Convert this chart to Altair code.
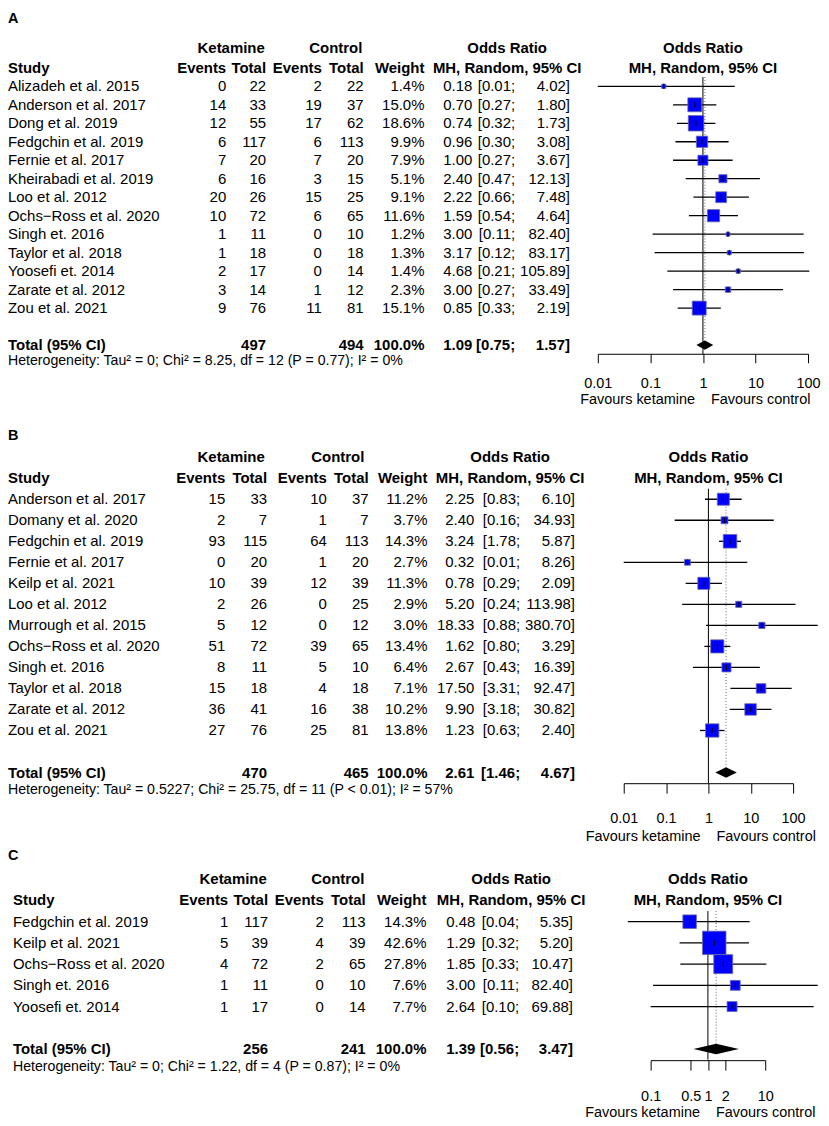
import altair as alt
import pandas as pd

FONT = "Liberation Sans"

# ---------------- Panel A data ----------------
a_study = ["Alizadeh et al. 2015", "Anderson et al. 2017", "Dong et al. 2019", "Fedgchin et al. 2019",
           "Fernie et al. 2017", "Kheirabadi et al. 2019", "Loo et al. 2012", "Ochs\u2212Ross et al. 2020",
           "Singh et. 2016", "Taylor et al. 2018", "Yoosefi et. 2014", "Zarate et al. 2012", "Zou et al. 2021"]
a_ev_k = [0, 14, 12, 6, 7, 6, 20, 10, 1, 1, 2, 3, 9]
a_n_k = [22, 33, 55, 117, 20, 16, 26, 72, 11, 18, 17, 14, 76]
a_ev_c = [2, 19, 17, 6, 7, 3, 15, 6, 0, 0, 0, 1, 11]
a_n_c = [22, 37, 62, 113, 20, 15, 25, 65, 10, 18, 14, 12, 81]
a_w = [1.4, 15.0, 18.6, 9.9, 7.9, 5.1, 9.1, 11.6, 1.2, 1.3, 1.4, 2.3, 15.1]
a_or = [0.18, 0.70, 0.74, 0.96, 1.00, 2.40, 2.22, 1.59, 3.00, 3.17, 4.68, 3.00, 0.85]
a_lo = [0.01, 0.27, 0.32, 0.30, 0.27, 0.47, 0.66, 0.54, 0.11, 0.12, 0.21, 0.27, 0.33]
a_hi = [4.02, 1.80, 1.73, 3.08, 3.67, 12.13, 7.48, 4.64, 82.40, 83.17, 105.89, 33.49, 2.19]
a_tot = [497, 494, 1.09, 0.75, 1.57]
a_het = "Heterogeneity: Tau\u00b2 = 0; Chi\u00b2 = 8.25, df = 12 (P = 0.77); I\u00b2 = 0%"

# ---------------- Panel B data ----------------
b_study = ["Anderson et al. 2017", "Domany et al. 2020", "Fedgchin et al. 2019", "Fernie et al. 2017",
           "Keilp et al. 2021", "Loo et al. 2012", "Murrough et al. 2015", "Ochs\u2212Ross et al. 2020",
           "Singh et. 2016", "Taylor et al. 2018", "Zarate et al. 2012", "Zou et al. 2021"]
b_ev_k = [15, 2, 93, 0, 10, 2, 5, 51, 8, 15, 36, 27]
b_n_k = [33, 7, 115, 20, 39, 26, 12, 72, 11, 18, 41, 76]
b_ev_c = [10, 1, 64, 1, 12, 0, 0, 39, 5, 4, 16, 25]
b_n_c = [37, 7, 113, 20, 39, 25, 12, 65, 10, 18, 38, 81]
b_w = [11.2, 3.7, 14.3, 2.7, 11.3, 2.9, 3.0, 13.4, 6.4, 7.1, 10.2, 13.8]
b_or = [2.25, 2.40, 3.24, 0.32, 0.78, 5.20, 18.33, 1.62, 2.67, 17.50, 9.90, 1.23]
b_lo = [0.83, 0.16, 1.78, 0.01, 0.29, 0.24, 0.88, 0.80, 0.43, 3.31, 3.18, 0.63]
b_hi = [6.10, 34.93, 5.87, 8.26, 2.09, 113.98, 380.70, 3.29, 16.39, 92.47, 30.82, 2.40]
b_tot = [470, 465, 2.61, 1.46, 4.67]
b_het = "Heterogeneity: Tau\u00b2 = 0.5227; Chi\u00b2 = 25.75, df = 11 (P < 0.01); I\u00b2 = 57%"

# ---------------- Panel C data ----------------
c_study = ["Fedgchin et al. 2019", "Keilp et al. 2021", "Ochs\u2212Ross et al. 2020", "Singh et. 2016",
           "Yoosefi et. 2014"]
c_ev_k = [1, 5, 4, 1, 1]
c_n_k = [117, 39, 72, 11, 17]
c_ev_c = [2, 4, 2, 0, 0]
c_n_c = [113, 39, 65, 10, 14]
c_w = [14.3, 42.6, 27.8, 7.6, 7.7]
c_or = [0.48, 1.29, 1.85, 3.00, 2.64]
c_lo = [0.04, 0.32, 0.33, 0.11, 0.10]
c_hi = [5.35, 5.20, 10.47, 82.40, 69.88]
c_tot = [256, 241, 1.39, 0.56, 3.47]
c_het = "Heterogeneity: Tau\u00b2 = 0; Chi\u00b2 = 1.22, df = 4 (P = 0.87); I\u00b2 = 0%"

# ---------------- text labels ----------------
hdr_top = ["Ketamine", "Control", "Odds Ratio"]
hdr_sub = ["Study", "Events", "Total", "Events", "Total", "Weight", "MH, Random, 95% CI"]
forest_hdr = ["Odds Ratio", "MH, Random, 95% CI"]
favours = ["Favours ketamine", "Favours control"]
total_label = "Total (95% CI)"
null_value = [1.0]

A_ticks = [0.01, 0.1, 1, 10, 100]
B_ticks = [0.01, 0.1, 1, 10, 100]
C_ticks = [0.1, 0.5, 1, 2, 10]

W = 813
SPACING = 60
FS = 15

# layout (pixel positions inside each panel)
LA = dict(label="A", h=343, y0=56.0, dy=18.55, xr=[592, 803], ticks=A_ticks, tsize=9, lpad=14,
          sq=13.0, lab_row=-3.019, lab_base="top", hrow=-1.05, sx=0, fav=2.97,
          cols=[219, 259, 315, 357, 418, 466, 509, 564], ket=224, ctl=329, orc=501)
LB = dict(label="B", h=371, y0=64.9, dy=21.1, xr=[618, 788], ticks=B_ticks, tsize=10, lpad=18,
          sq=17.5, lab_row=-2.0, lab_base="middle", hrow=-1.0, sx=0, fav=3.05,
          cols=[218, 260, 320, 362, 421, 468, 514, 569], ket=224, ctl=331, orc=504)
LC = dict(label="C", h=218, y0=57.7, dy=21.3, xr=[645, 760], ticks=C_ticks, tsize=10, lpad=19,
          sq=6.0, lab_row=-2.08, lab_base="middle", hrow=-1.0, sx=5, fav=3.03,
          cols=[221, 261, 317, 359, 420, 469, 513, 567], ket=226, ctl=331, orc=505)


def panel(study, ev_k, n_k, ev_c, n_c, w, est, lo, hi, tot, het, L):
    n = len(study)
    trow = n + 2
    df = pd.DataFrame({
        "row": list(range(1, n + 1)) + [trow],
        "kind": ["study"] * n + ["total"],
        "study": study + [total_label],
        "ev_k": [str(v) for v in ev_k] + [""],
        "n_k": [str(v) for v in n_k] + [str(tot[0])],
        "ev_c": [str(v) for v in ev_c] + [""],
        "n_c": [str(v) for v in n_c] + [str(tot[1])],
        "wt": [f"{v:.1f}%" for v in w] + ["100.0%"],
        "est_s": [f"{v:.2f}" for v in est] + [f"{tot[2]:.2f}"],
        "lo_s": [f"[{v:.2f};" for v in lo] + [f"[{tot[3]:.2f};"],
        "hi_s": [f"{v:.2f}]" for v in hi] + [f"{tot[4]:.2f}]"],
        "est": est + [tot[2]],
        "lo": lo + [tot[3]],
        "hi": hi + [tot[4]],
        "w": w + [100.0],
    })
    ysc = alt.Scale(domain=[0, trow], range=[L["y0"], L["y0"] + L["dy"] * trow], zero=False, nice=False)
    xsc = alt.Scale(type="log", domain=[L["ticks"][0], L["ticks"][-1]], range=L["xr"], nice=False)
    ax = alt.Axis(values=L["ticks"], format="~g", title=None, grid=False, domainColor="black",
                  tickColor="black", labelColor="black", labelFont=FONT, labelFontSize=14.5,
                  tickSize=L["tsize"], labelPadding=L["lpad"], domainWidth=1, tickWidth=1,
                  labelFlush=False, labelOverlap=False)

    def Y(f):
        return alt.Y(f, type="quantitative", scale=ysc, axis=None)

    def X(f):
        return alt.X(f, type="quantitative", scale=xsc, axis=ax)

    layers = []
    cols = L["cols"]
    fields = [("study", L["sx"], "left"), ("ev_k", cols[0], "right"), ("n_k", cols[1], "right"),
              ("ev_c", cols[2], "right"), ("n_c", cols[3], "right"), ("wt", cols[4], "right"),
              ("est_s", cols[5], "right"), ("lo_s", cols[6], "right"), ("hi_s", cols[7], "right")]
    for kind, bold in (("study", False), ("total", True)):
        for f, x, al in fields:
            layers.append(
                alt.Chart(df).transform_filter(alt.datum.kind == kind)
                .mark_text(align=al, baseline="middle", font=FONT, fontSize=FS,
                           fontWeight="bold" if bold else "normal", color="black")
                .encode(x=alt.value(x), y=Y("row"), text=alt.Text(f, type="nominal"))
            )

    def lab(text, row, x, align, bold=True, size=FS, baseline="middle"):
        d = pd.DataFrame({"row": [row], "t": [text]})
        return (alt.Chart(d).mark_text(align=align, baseline=baseline, font=FONT, fontSize=size,
                                       fontWeight="bold" if bold else "normal", color="black")
                .encode(x=alt.value(x), y=Y("row"), text="t:N"))

    hr = L["hrow"]
    layers += [
        lab(L["label"], L["lab_row"], 0, "left", size=14.5, baseline=L["lab_base"]),
        lab(hdr_top[0], hr, L["ket"], "center"),
        lab(hdr_top[1], hr, L["ctl"], "center"),
        lab(hdr_top[2], hr, L["orc"], "center"),
        lab(hdr_sub[0], 0, L["sx"], "left"),
        lab(hdr_sub[1], 0, cols[0], "right"),
        lab(hdr_sub[2], 0, cols[1], "right"),
        lab(hdr_sub[3], 0, cols[2], "right"),
        lab(hdr_sub[4], 0, cols[3], "right"),
        lab(hdr_sub[5], 0, cols[4], "right"),
        lab(hdr_sub[6], 0, L["orc"], "center"),
        lab(het, trow + 0.84, L["sx"], "left", bold=False, size=14.2),
    ]

    sdf = df[df.kind == "study"]
    # reference lines
    nl = pd.DataFrame({"x": null_value, "y1": [0.5], "y2": [trow + 0.5]})
    pl = pd.DataFrame({"x": [tot[2]], "y1": [0.5], "y2": [trow - 0.25]})
    layers.append(alt.Chart(pl).mark_rule(color="#666666", strokeWidth=1, strokeDash=[1, 2])
                  .encode(x=X("x"), y=Y("y1"), y2="y2"))
    layers.append(alt.Chart(nl).mark_rule(color="black", strokeWidth=1)
                  .encode(x=X("x"), y=Y("y1"), y2="y2"))
    # CI lines
    layers.append(alt.Chart(sdf).mark_rule(color="black", strokeWidth=1.3)
                  .encode(x=X("lo"), x2="hi", y=Y("row")))
    # squares
    layers.append(alt.Chart(sdf).mark_square(filled=True, fill="#0000ff", stroke="#6a6aa8",
                                             strokeWidth=0.8, opacity=1)
                  .encode(x=X("est"), y=Y("row"),
                          size=alt.Size("w:Q", scale=alt.Scale(domain=[0, 100], range=[0, L["sq"] * 100]),
                                        legend=None)))
    # estimate ticks
    layers.append(alt.Chart(sdf).mark_point(shape="M0,-1L0,1", size=30, filled=False, color="black",
                                            strokeWidth=1, opacity=1)
                  .encode(x=X("est"), y=Y("row")))
    # diamond
    dd = pd.DataFrame({"x": [tot[3], tot[2], tot[4]],
                       "y1": [trow, trow - 0.25, trow], "y2": [trow, trow + 0.25, trow]})
    layers.append(alt.Chart(dd).mark_area(color="black", orient="vertical", opacity=1)
                  .encode(x=X("x"), y=Y("y1"), y2="y2"))
    # forest header
    fh = pd.DataFrame({"x": null_value * 2, "row": [hr, 0], "t": forest_hdr})
    layers.append(alt.Chart(fh).mark_text(align="center", baseline="middle", font=FONT, fontSize=FS,
                                          fontWeight="bold", color="black")
                  .encode(x=X("x"), y=Y("row"), text="t:N"))
    # favours
    fv = pd.DataFrame({"x": null_value, "row": [trow + L["fav"]], "l": [favours[0]], "r": [favours[1]]})
    layers.append(alt.Chart(fv).mark_text(align="right", baseline="middle", font=FONT, fontSize=14.5,
                                          color="black", dx=-8)
                  .encode(x=X("x"), y=Y("row"), text="l:N"))
    layers.append(alt.Chart(fv).mark_text(align="left", baseline="middle", font=FONT, fontSize=14.5,
                                          color="black", dx=8)
                  .encode(x=X("x"), y=Y("row"), text="r:N"))

    return alt.layer(*layers).properties(width=W, height=L["h"])


pA = panel(a_study, a_ev_k, a_n_k, a_ev_c, a_n_c, a_w, a_or, a_lo, a_hi, a_tot, a_het, LA)
pB = panel(b_study, b_ev_k, b_n_k, b_ev_c, b_n_c, b_w, b_or, b_lo, b_hi, b_tot, b_het, LB)
pC = panel(c_study, c_ev_k, c_n_k, c_ev_c, c_n_c, c_w, c_or, c_lo, c_hi, c_tot, c_het, LC)

chart = (alt.vconcat(pA, pB, pC, spacing=SPACING, bounds="flush", padding=0)
         .configure(font=FONT, background="white")
         .configure_view(stroke=None))

chart.save("out.html", embed_options={"renderer": "svg", "actions": False})
